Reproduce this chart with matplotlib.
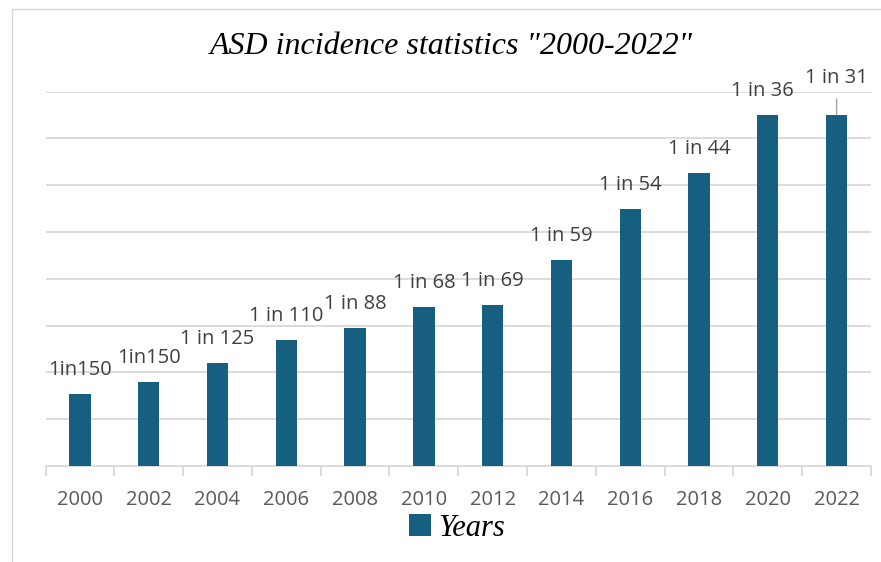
import numpy as np
import matplotlib.pyplot as plt
from matplotlib.patches import Rectangle, Patch

# Prevalence by survey year (bar heights in chart units) and the "1 in N" labels
years = ["2000", "2002", "2004", "2006", "2008", "2010",
         "2012", "2014", "2016", "2018", "2020", "2022"]
heights = [1.54, 1.79, 2.20, 2.70, 2.95, 3.39, 3.44, 4.41, 5.50, 6.25, 7.50, 7.50]
labels = ["1in150", "1in150", "1 in 125", "1 in 110", "1 in 88", "1 in 68",
          "1 in 69", "1 in 59", "1 in 54", "1 in 44", "1 in 36", "1 in 31"]

bar_color = "#175f80"
grid_color = "#d9d9d9"

plt.rcParams["font.family"] = ["Open Sans", "DejaVu Sans"]

fig = plt.figure(figsize=(8.81, 5.62), dpi=100)
ax = fig.add_axes([45.5 / 881, 1 - 466 / 562, 825.5 / 881, 374.5 / 562])

# light frame round the chart area
fig.patches.append(Rectangle((12 / 881, -0.1), 1.2, 1 - 9 / 562 + 0.1,
                             transform=fig.transFigure, fill=False,
                             edgecolor=grid_color, linewidth=1))

x = np.arange(len(years))
bars = ax.bar(x, heights, width=0.31, color=bar_color, zorder=3)

ax.set_xlim(-0.5, len(years) - 0.5)
ax.set_ylim(0, 8)
ax.set_yticks(np.arange(1, 9))
ax.yaxis.grid(True, color=grid_color, linewidth=1.3, zorder=0)
ax.tick_params(axis="y", left=False, labelleft=False)

for side in ["top", "right", "left"]:
    ax.spines[side].set_visible(False)
ax.spines["bottom"].set_color(grid_color)
ax.spines["bottom"].set_linewidth(1.3)

ax.set_xticks(x)
ax.set_xticklabels(years, fontsize=14.5, color="#595959")
ax.set_xticks(np.arange(-0.5, len(years)), minor=True)
ax.tick_params(axis="x", which="major", length=0, pad=17)
ax.tick_params(axis="x", which="minor", length=7, color=grid_color, width=1.3)

# value labels above the bars
for i, (h, lab) in enumerate(zip(heights, labels)):
    if i == len(years) - 1:
        ax.annotate(lab, xy=(i, h), xytext=(0, 37), textcoords="offset pixels",
                    ha="center", va="center", fontsize=14.5, color="#404040",
                    annotation_clip=False,
                    arrowprops=dict(arrowstyle="-", color="#a6a6a6", lw=1,
                                    shrinkA=6, shrinkB=0))
    else:
        dx = -5 if i == len(years) - 2 else 0
        ax.annotate(lab, xy=(i, h), xytext=(dx, 24), textcoords="offset pixels",
                    ha="center", va="center", fontsize=14.5, color="#404040",
                    annotation_clip=False)

fig.text(451 / 881, 1 - 47 / 562, 'ASD incidence statistics "2000-2022"',
         ha="center", va="center", fontsize=23, style="italic",
         family="Liberation Serif", color="#000000")

leg = fig.legend(handles=[Patch(facecolor=bar_color, label="Years")],
                 loc="center", bbox_to_anchor=(457 / 881, 1 - 528 / 562),
                 frameon=False, handlelength=0.7, handleheight=0.7,
                 handletextpad=0.25, prop={"family": "Liberation Serif",
                                           "style": "italic", "size": 22})

fig.savefig("out.png", dpi=100)
